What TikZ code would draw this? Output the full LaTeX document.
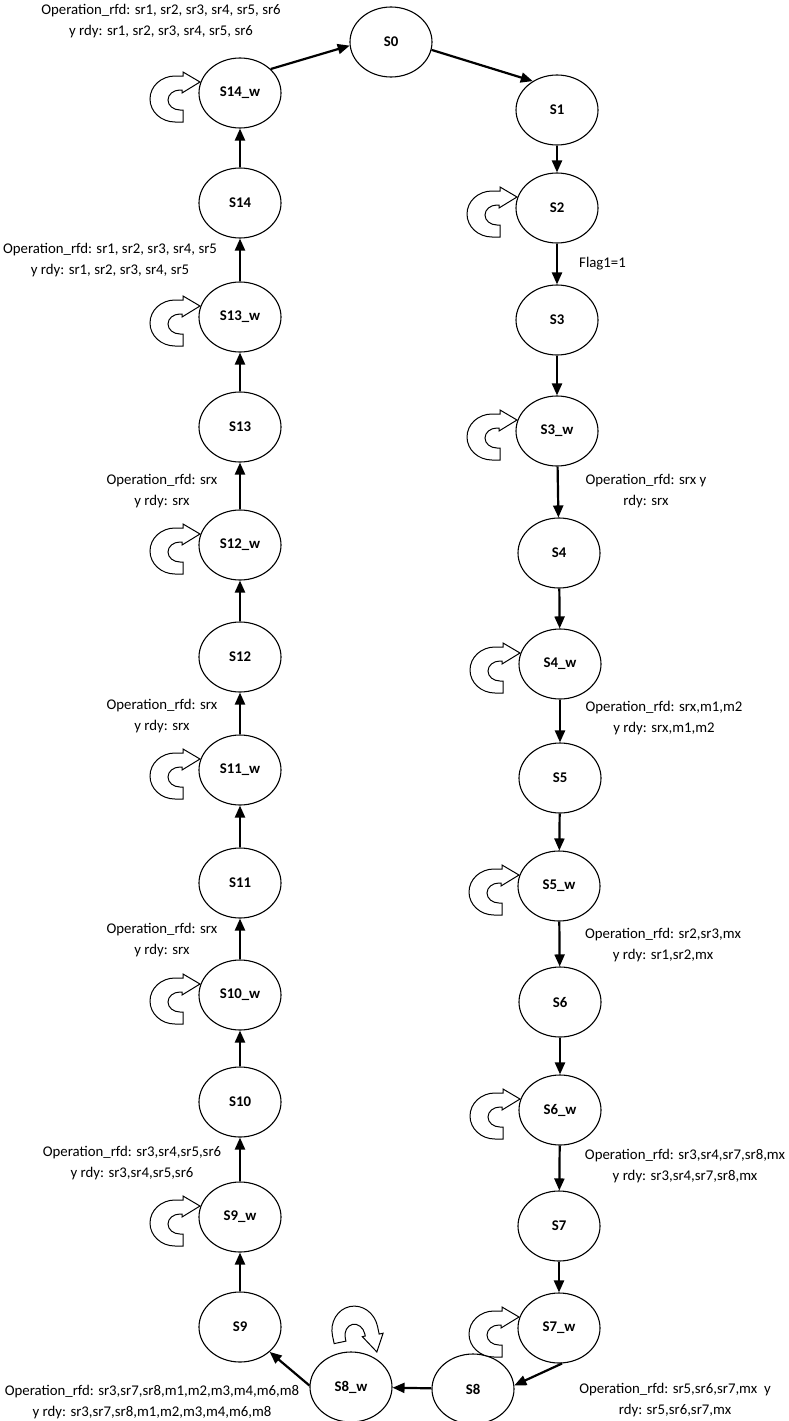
\documentclass[tikz,border=0pt]{standalone}
\usepackage{fontspec}
\setmainfont{Carlito}
\usetikzlibrary{shapes.geometric,arrows.meta}
\begin{document}
\begin{tikzpicture}[x=1pt,y=-1pt,
  state/.style={ellipse,draw,line width=1.1pt,minimum width=82pt,minimum height=70pt,
    inner sep=0pt,font=\fontsize{14.8}{18}\selectfont\bfseries},
  flow/.style={line width=2.2pt,-{Triangle[length=12pt,width=10pt]}},
  note/.style={align=center,font=\fontsize{14.8}{21}\selectfont,inner sep=0pt},
  selfloop/.pic={
    \draw[line width=1pt,fill=white]
      (8,23) -- (0,23) arc[start angle=90,end angle=270,x radius=25,y radius=23]
      -- (8,-23) -- (8,-27) -- (25,-17) -- (7,-6) -- (7,-9) -- (5,-9)
      arc[start angle=270,end angle=90,x radius=12,y radius=10] -- (8,11) -- cycle;
  }
]
\useasboundingbox (0,0) rectangle (788,1421);

% right column
\node[state] (S0)  at (391,42)   {S0};
\node[state] (S1)  at (557,110)  {S1};
\node[state] (S2)  at (557,208)  {S2};
\node[state] (S3)  at (557,320)  {S3};
\node[state] (S3w) at (557,431)  {S3\_w};
\node[state] (S4)  at (559,553)  {S4};
\node[state] (S4w) at (560,664)  {S4\_w};
\node[state] (S5)  at (560,778)  {S5};
\node[state] (S5w) at (559,886)  {S5\_w};
\node[state] (S6)  at (560,1002) {S6};
\node[state] (S6w) at (560,1110) {S6\_w};
\node[state] (S7)  at (559,1226) {S7};
\node[state] (S7w) at (559,1328) {S7\_w};
\node[state] (S8)  at (473,1389) {S8};
\node[state] (S8w) at (351,1387) {S8\_w};

% left column
\node[state] (S9)   at (240,1327) {S9};
\node[state] (S9w)  at (240,1217) {S9\_w};
\node[state] (S10)  at (240,1102) {S10};
\node[state] (S10w) at (240,995)  {S10\_w};
\node[state] (S11)  at (240,883)  {S11};
\node[state] (S11w) at (240,770)  {S11\_w};
\node[state] (S12)  at (240,657)  {S12};
\node[state] (S12w) at (240,545)  {S12\_w};
\node[state] (S13)  at (240,427)  {S13};
\node[state] (S13w) at (240,317)  {S13\_w};
\node[state] (S14)  at (240,203)  {S14};
\node[state] (S14w) at (240,93)   {S14\_w};

% wait loops
\foreach \n/\px/\py in {S2/557/208,S3w/557/431,S4w/560/664,S5w/559/886,S6w/560/1110,S7w/559/1328,
  S9w/240/1217,S10w/240/995,S11w/240/770,S12w/240/545,S13w/240/317,S14w/240/93}
  \pic (loop\n) at (\px-65,\py+6) {selfloop};
\pic[rotate=-78] (loopS8w) at (355,1331) {selfloop};

% transitions
\draw[flow] (S14w.38) -- (S0.185);
\draw[flow] (S0.-11) -- (S1.130);
\draw[flow] (S1) -- (S2);
\draw[flow] (S2) -- (S3);
\draw[flow] (S3) -- (S3w);
\draw[flow] (S3w) -- (S4);
\draw[flow] (S4) -- (S4w);
\draw[flow] (S4w) -- (S5);
\draw[flow] (S5) -- (S5w);
\draw[flow] (S5w) -- (S6);
\draw[flow] (S6) -- (S6w);
\draw[flow] (S6w) -- (S7);
\draw[flow] (S7) -- (S7w);
\draw[flow] (S7w.-85) -- (S8.5);
\draw[flow] (S8) -- (S8w);
\draw[flow] (S8w.178) -- (S9.-40);
\draw[flow] (S9) -- (S9w);
\draw[flow] (S9w) -- (S10);
\draw[flow] (S10) -- (S10w);
\draw[flow] (S10w) -- (S11);
\draw[flow] (S11) -- (S11w);
\draw[flow] (S11w) -- (S12);
\draw[flow] (S12) -- (S12w);
\draw[flow] (S12w) -- (S13);
\draw[flow] (S13) -- (S13w);
\draw[flow] (S13w) -- (S14);
\draw[flow] (S14) -- (S14w);

% transition conditions
\node[note] (cS14w) at (161,21)   {Operation\_rfd: sr1, sr2, sr3, sr4, sr5, sr6\\y rdy: sr1, sr2, sr3, sr4, sr5, sr6};
\node[note] (cS13w) at (110,260)  {Operation\_rfd: sr1, sr2, sr3, sr4, sr5\\y rdy: sr1, sr2, sr3, sr4, sr5};
\node[note] (cS12w) at (162,491)  {Operation\_rfd: srx\\y rdy: srx};
\node[note] (cS11w) at (162,716)  {Operation\_rfd: srx\\y rdy: srx};
\node[note] (cS10w) at (162,940)  {Operation\_rfd: srx\\y rdy: srx};
\node[note] (cS9w)  at (132,1163) {Operation\_rfd: sr3,sr4,sr5,sr6\\y rdy: sr3,sr4,sr5,sr6};
\node[note] (cS8w)  at (152,1402) {Operation\_rfd: sr3,sr7,sr8,m1,m2,m3,m4,m6,m8\\y rdy: sr3,sr7,sr8,m1,m2,m3,m4,m6,m8};
\node[note,anchor=west] (cS2) at (579,264) {Flag1=1};
\node[note] (cS3w)  at (646,491)  {Operation\_rfd: srx y\\rdy: srx};
\node[note] (cS4w)  at (664,718)  {Operation\_rfd: srx,m1,m2\\y rdy: srx,m1,m2};
\node[note] (cS5w)  at (663,945)  {Operation\_rfd: sr2,sr3,mx\\y rdy: sr1,sr2,mx};
\node[note] (cS6w)  at (685,1166) {Operation\_rfd: sr3,sr4,sr7,sr8,mx\\y rdy: sr3,sr4,sr7,sr8,mx};
\node[note] (cS7w)  at (675,1400) {Operation\_rfd: sr5,sr6,sr7,mx\ \ y\\rdy: sr5,sr6,sr7,mx};
\end{tikzpicture}
\end{document}
